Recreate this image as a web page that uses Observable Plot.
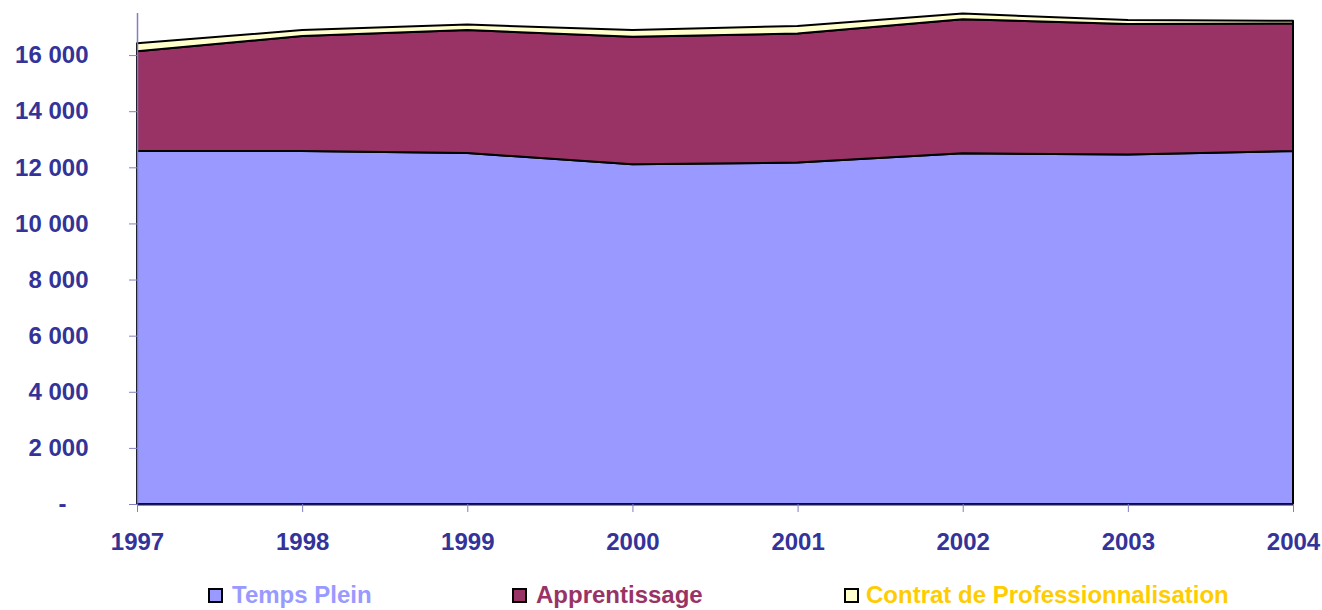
<!DOCTYPE html>
<html>
<head>
<meta charset="utf-8">
<script src="https://cdn.jsdelivr.net/npm/d3@7"></script>
<script src="https://cdn.jsdelivr.net/npm/@observablehq/plot@0.6"></script>
<style>
  html, body { margin: 0; padding: 0; background: #fff; }
  body { width: 1322px; height: 610px; position: relative; overflow: hidden; font-family: "Liberation Sans", Arial, sans-serif; }
  #chart { position: absolute; left: 0; top: 0; }
  .lg-sw { position: absolute; width: 11px; height: 11px; border: 2px solid #000; }
  .lg-tx { position: absolute; font-size: 24px; line-height: 24px; font-weight: bold; white-space: nowrap; }
</style>
</head>
<body>
<div id="chart"></div>
<script>
// ---- data ----
const years = [1997, 1998, 1999, 2000, 2001, 2002, 2003, 2004];
const tempsPlein    = [12580, 12580, 12510, 12110, 12170, 12500, 12460, 12580];
const apprentissage = [3560, 4100, 4380, 4540, 4600, 4780, 4650, 4550];
const contrat       = [280, 210, 200, 240, 270, 200, 140, 90];
const seriesNames = ["Temps Plein", "Apprentissage", "Contrat de Professionnalisation"];
const seriesFill = ["#9999FF", "#993366", "#FFFFCC"];
const seriesText = ["#9999FF", "#993366", "#FFCC00"];
const yTicks = [0, 2000, 4000, 6000, 8000, 10000, 12000, 14000, 16000];

const table = [];
[tempsPlein, apprentissage, contrat].forEach((vals, si) => {
  years.forEach((yr, i) => table.push({year: yr, value: vals[i], series: seriesNames[si]}));
});

const fmt = d => d === 0 ? "" : d3.format(",")(d).replace(/,/g, "\u00a0");

const chart = Plot.plot({
  width: 1322,
  height: 570,
  marginTop: 13,
  marginBottom: 66,
  marginLeft: 137,
  marginRight: 29,
  style: {fontFamily: "'Liberation Sans', Arial, sans-serif", background: "#fff"},
  x: {domain: [1997, 2004]},
  y: {domain: [0, 17500]},
  color: {domain: seriesNames, range: seriesFill},
  marks: [
    Plot.areaY(table, {x: "year", y: "value", z: "series", fill: "series", stroke: "#000", strokeWidth: 2, strokeLinejoin: "round"}),
    Plot.ruleX([1997], {stroke: "#8080C0", strokeWidth: 1.5}),
    Plot.ruleY([0], {stroke: "#1a1a5a", strokeWidth: 2}),
    Plot.axisY({ticks: yTicks, tickSize: 8, tickPadding: 41, tickFormat: fmt, fontSize: 24, fontWeight: "bold", fill: "#333399", stroke: "#8080C0", label: null}),
    Plot.text([0], {y: d => d, frameAnchor: "left", dx: -79, text: () => "-", fontSize: 24, fontWeight: "bold", fill: "#333399"}),
    Plot.axisX({ticks: years, tickSize: 8, tickPadding: 20, tickFormat: d => String(d), fontSize: 24, fontWeight: "bold", fill: "#333399", stroke: "#8080C0", label: null})
  ]
});
document.getElementById("chart").appendChild(chart);

// ---- legend ----
const legendPos = [{sw: 208, tx: 232}, {sw: 512, tx: 536}, {sw: 844, tx: 866}];
seriesNames.forEach((name, i) => {
  const sw = document.createElement("div");
  sw.className = "lg-sw";
  sw.style.left = legendPos[i].sw + "px";
  sw.style.top = "588px";
  sw.style.background = seriesFill[i];
  document.body.appendChild(sw);
  const tx = document.createElement("div");
  tx.className = "lg-tx";
  tx.style.left = legendPos[i].tx + "px";
  tx.style.top = "583px";
  tx.style.color = seriesText[i];
  tx.textContent = name;
  document.body.appendChild(tx);
});
</script>
</body>
</html>
